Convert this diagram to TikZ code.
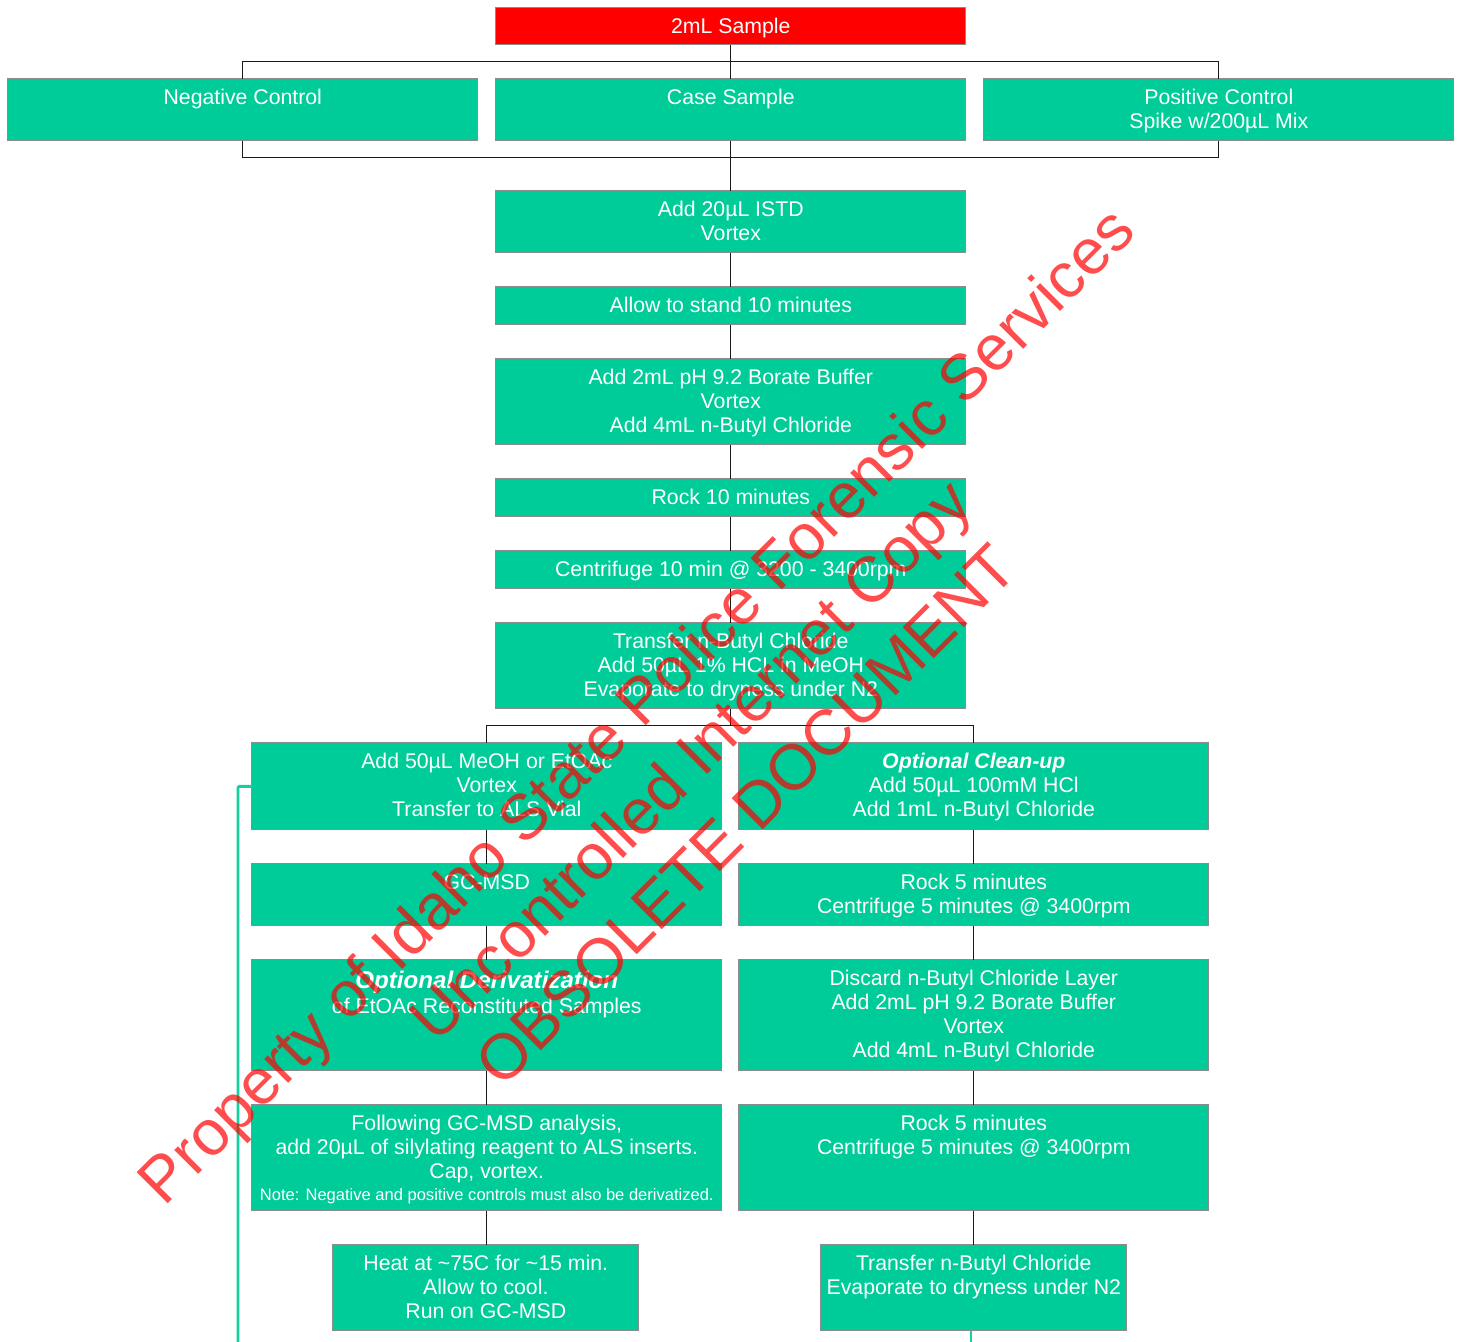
\documentclass[tikz,border=0pt]{standalone}
\usepackage{fontspec}
\setmainfont{Liberation Sans}
\definecolor{boxgreen}{HTML}{00CC99}
\definecolor{boxedge}{HTML}{8C8C8C}
\definecolor{wlink}{HTML}{14CFA0}
\definecolor{linkdark}{HTML}{1A1A1A}
\newcommand{\bx}[7][boxgreen]{%
  \pgfmathsetmacro{\ww}{(#5-#3)*0.75}%
  \pgfmathsetmacro{\hh}{(#6-#4)*0.75}%
  \node[stepbox,fill=#1,minimum width=\ww pt,minimum height=\hh pt] (#2) at ({(#3+#5)/2-0.2},{(#4+#6)/2-0.2})
    {\parbox[c][\hh pt][t]{\ww pt}{\centering\rule{0pt}{19.2pt}#7}};}
\tikzset{
  stepbox/.style={draw=boxedge,line width=0.95pt,rectangle,inner sep=0pt,outer sep=0pt,text=white,
    font=\fontsize{15.95}{18}\selectfont},
  blackline/.style={draw=linkdark,line width=1pt},
  greenline/.style={draw=wlink,line width=2.2pt,rounded corners=1pt},
  wmark/.style={text=red,text opacity=0.7,rotate=45,inner sep=0pt,font=\fontsize{48}{56}\selectfont}
}
\begin{document}
\begin{tikzpicture}[x=0.75pt,y=-0.75pt]
\useasboundingbox (0,0) rectangle (1460,1342);
\bx[red]{sample}{496}{8}{966}{45}{2mL Sample}
\bx{neg}{8}{79}{478}{141}{Negative Control}
\bx{case}{496}{79}{966}{141}{Case Sample}
\bx{pos}{984}{79}{1454}{141}{Positive Control\\Spike w/200µL Mix}
\bx{istd}{496}{191}{966}{253}{Add 20µL ISTD\\Vortex}
\bx{stand}{496}{287}{966}{325}{Allow to stand 10 minutes}
\bx{borate}{496}{359}{966}{445}{Add 2mL pH 9.2 Borate Buffer\\Vortex\\Add 4mL n-Butyl Chloride}
\bx{rock}{496}{479}{966}{517}{Rock 10 minutes}
\bx{centri}{496}{551}{966}{589}{Centrifuge 10 min @ 3200 - 3400rpm}
\bx{transfer}{496}{623}{966}{709}{Transfer n-Butyl Chloride\\Add 50µL 1\% HCL in MeOH\\Evaporate to dryness under N2}
\bx{meoh}{252}{743}{722}{830}{Add 50µL MeOH or EtOAc\\Vortex\\Transfer to ALS Vial}
\bx{gcmsd}{252}{864}{722}{926}{GC-MSD}
\bx{deriv}{252}{960}{722}{1071}{\rule{0pt}{21.6pt}{\fontsize{18.1}{18}\selectfont\bfseries\itshape Optional Derivatization}\\[1pt]of EtOAc Reconstituted Samples}
\bx{silyl}{252}{1105}{722}{1211}{Following GC-MSD analysis,\\add 20µL of silylating reagent to ALS inserts.\\Cap, vortex.\\[-1.5pt]{\fontsize{12.4}{18}\selectfont Note: Negative and positive controls must also be derivatized.}}
\bx{heat}{333}{1245}{639}{1331}{Heat at \textasciitilde75C for \textasciitilde15 min.\\Allow to cool.\\Run on GC-MSD}
\bx{clean}{739}{743}{1209}{830}{{\bfseries\itshape Optional Clean-up}\\Add 50µL 100mM HCl\\Add 1mL n-Butyl Chloride}
\bx{rocka}{739}{864}{1209}{926}{Rock 5 minutes\\Centrifuge 5 minutes @ 3400rpm}
\bx{discard}{739}{960}{1209}{1071}{Discard n-Butyl Chloride Layer\\Add 2mL pH 9.2 Borate Buffer\\Vortex\\Add 4mL n-Butyl Chloride}
\bx{rockb}{739}{1105}{1209}{1211}{Rock 5 minutes\\Centrifuge 5 minutes @ 3400rpm}
\bx{evap}{821}{1245}{1127}{1331}{Transfer n-Butyl Chloride\\Evaporate to dryness under N2}
\coordinate (freeL) at (238,1342);
\coordinate (freeR) at (971,1342);
\coordinate (evapout) at (971,1331);
\draw[blackline] (sample.south) -- (case.north);
\draw[blackline] (neg.north) -- ++(0,-17) -| (pos.north);
\draw[blackline] (neg.south) -- ++(0,17) -| (pos.south);
\draw[blackline] (case.south) -- (istd.north);
\draw[blackline] (istd.south) -- (stand.north);
\draw[blackline] (stand.south) -- (borate.north);
\draw[blackline] (borate.south) -- (rock.north);
\draw[blackline] (rock.south) -- (centri.north);
\draw[blackline] (centri.south) -- (transfer.north);
\draw[blackline] (meoh.north) -- ++(0,-17) -| (clean.north);
\draw[blackline] (meoh.south) -- (gcmsd.north);
\draw[blackline] (gcmsd.south) -- (deriv.north);
\draw[blackline] (deriv.south) -- (silyl.north);
\draw[blackline] (silyl.south) -- (silyl.south |- heat.north);
\draw[blackline] (clean.south) -- (rocka.north);
\draw[blackline] (rocka.south) -- (discard.north);
\draw[blackline] (discard.south) -- (rockb.north);
\draw[blackline] (rockb.south) -- (evap.north);
\draw[blackline] (transfer.south) -- ++(0,17);
\draw[greenline] (meoh.west) -| (freeL);
\draw[greenline] (evapout) -- (freeR);
\node[wmark] (w1) at (640,709) {Property of Idaho State Police Forensic Services};
\node[wmark] (w2) at (694,764) {Uncontrolled Internet Copy};
\node[wmark] (w3) at (746,815) {OBSOLETE DOCUMENT};
\end{tikzpicture}
\end{document}
